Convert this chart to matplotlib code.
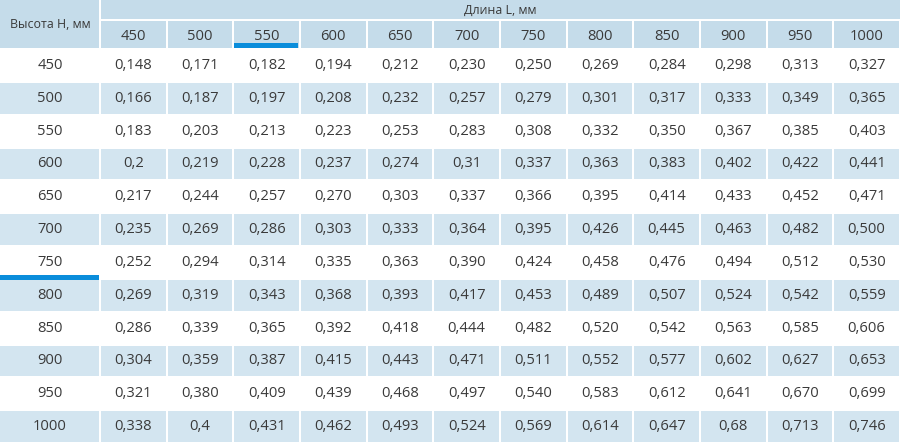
import matplotlib
matplotlib.use('Agg')
import matplotlib.pyplot as plt
from matplotlib.patches import Rectangle

plt.rcParams['font.family'] = ['Open Sans', 'DejaVu Sans']

# table data
lengths = [450, 500, 550, 600, 650, 700, 750, 800, 850, 900, 950, 1000]
heights = [450, 500, 550, 600, 650, 700, 750, 800, 850, 900, 950, 1000]
values = [
    ['0,148', '0,171', '0,182', '0,194', '0,212', '0,230', '0,250', '0,269', '0,284', '0,298', '0,313', '0,327'],
    ['0,166', '0,187', '0,197', '0,208', '0,232', '0,257', '0,279', '0,301', '0,317', '0,333', '0,349', '0,365'],
    ['0,183', '0,203', '0,213', '0,223', '0,253', '0,283', '0,308', '0,332', '0,350', '0,367', '0,385', '0,403'],
    ['0,2', '0,219', '0,228', '0,237', '0,274', '0,31', '0,337', '0,363', '0,383', '0,402', '0,422', '0,441'],
    ['0,217', '0,244', '0,257', '0,270', '0,303', '0,337', '0,366', '0,395', '0,414', '0,433', '0,452', '0,471'],
    ['0,235', '0,269', '0,286', '0,303', '0,333', '0,364', '0,395', '0,426', '0,445', '0,463', '0,482', '0,500'],
    ['0,252', '0,294', '0,314', '0,335', '0,363', '0,390', '0,424', '0,458', '0,476', '0,494', '0,512', '0,530'],
    ['0,269', '0,319', '0,343', '0,368', '0,393', '0,417', '0,453', '0,489', '0,507', '0,524', '0,542', '0,559'],
    ['0,286', '0,339', '0,365', '0,392', '0,418', '0,444', '0,482', '0,520', '0,542', '0,563', '0,585', '0,606'],
    ['0,304', '0,359', '0,387', '0,415', '0,443', '0,471', '0,511', '0,552', '0,577', '0,602', '0,627', '0,653'],
    ['0,321', '0,380', '0,409', '0,439', '0,468', '0,497', '0,540', '0,583', '0,612', '0,641', '0,670', '0,699'],
    ['0,338', '0,4', '0,431', '0,462', '0,493', '0,524', '0,569', '0,614', '0,647', '0,68', '0,713', '0,746'],
]
corner_label = 'Высота H, мм'
top_label = 'Длина L, мм'
marked_length = 550
marked_height = 750

header_col = '#c5dcea'
row_col = '#d3e5f0'
blue = '#0a8ddb'
text_col = '#3a3a3a'

W, H = 900, 443
first_w = 100
col_w = (W - first_w) / len(lengths)
head1 = 20
head2 = 49
row_h = (H - head2) / len(heights)
gap = 1

fig = plt.figure(figsize=(9, 4.43), dpi=100)
ax = fig.add_axes([0, 0, 1, 1])
ax.set_xlim(0, W)
ax.set_ylim(H, 0)
ax.axis('off')


def cell(x, y, w, h, color):
    ax.add_patch(Rectangle((x + gap, y + gap), w - 2 * gap, h - 2 * gap,
                           facecolor=color, edgecolor='none'))


# header
cell(-gap, -gap, first_w + gap, head2 + gap, header_col)
ax.text(first_w / 2, head2 / 2, corner_label, ha='center', va='center',
        fontsize=8.9, color=text_col)
cell(first_w, -gap, W - first_w + gap, head1 + gap, header_col)
ax.text(first_w + (W - first_w) / 2, head1 / 2, top_label, ha='center',
        va='center', fontsize=8.9, color=text_col)
for i, L in enumerate(lengths):
    x = first_w + i * col_w
    cell(x, head1, col_w, head2 - head1, header_col)
    ax.text(x + col_w / 2, (head1 + head2) / 2 + 2, str(L), ha='center',
            va='center', fontsize=10.6, color=text_col)
    if L == marked_length:
        ax.add_patch(Rectangle((x + gap, head2 - 6), col_w - 3, 5,
                               facecolor=blue, edgecolor='none'))

# body
for j, Hh in enumerate(heights):
    y = head2 + j * row_h
    shaded = j % 2 == 1
    if shaded:
        cell(-gap, y, first_w + gap, row_h, row_col)
        for i in range(len(lengths)):
            cell(first_w + i * col_w, y, col_w, row_h, row_col)
    ax.text(first_w / 2, y + row_h / 2, str(Hh), ha='center', va='center',
            fontsize=10.6, color=text_col)
    for i, v in enumerate(values[j]):
        ax.text(first_w + i * col_w + col_w / 2, y + row_h / 2, v,
                ha='center', va='center', fontsize=10.6, color=text_col)
    if Hh == marked_height:
        ax.add_patch(Rectangle((0, y + row_h - 4), first_w - gap, 5,
                               facecolor=blue, edgecolor='none'))

fig.savefig('out.png', dpi=100)
